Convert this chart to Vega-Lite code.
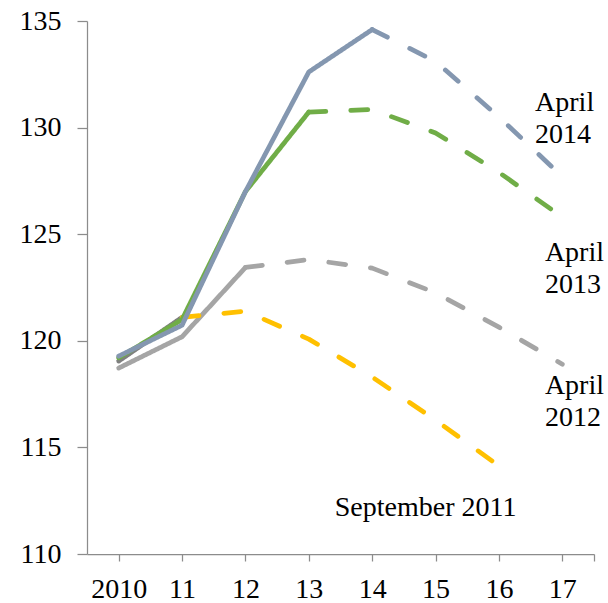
{
  "$schema": "https://vega.github.io/schema/vega-lite/v6.json",
  "width": 507,
  "height": 533,
  "autosize": "none",
  "padding": {"left": 87, "top": 21, "right": 14, "bottom": 49},
  "background": "white",
  "config": {"view": {"stroke": null}},
  "datasets": {
    "lines": [
      {"series": "April 2012", "segment": "solid", "year": 2010, "value": 118.72},
      {"series": "April 2012", "segment": "solid", "year": 2011, "value": 120.19},
      {"series": "April 2012", "segment": "solid", "year": 2012, "value": 123.44},
      {"series": "April 2012", "segment": "dash", "year": 2012, "value": 123.44},
      {"series": "April 2012", "segment": "dash", "year": 2013, "value": 123.81},
      {"series": "April 2012", "segment": "dash", "year": 2014, "value": 123.41},
      {"series": "April 2012", "segment": "dash", "year": 2015, "value": 122.25},
      {"series": "April 2012", "segment": "dash", "year": 2016, "value": 120.64},
      {"series": "April 2012", "segment": "dash", "year": 2017, "value": 118.9},
      {"series": "Actual 2011", "segment": "solid", "year": 2010, "value": 119.05},
      {"series": "Actual 2011", "segment": "solid", "year": 2011, "value": 121.1},
      {"series": "September 2011", "segment": "dash", "year": 2011, "value": 121.1},
      {"series": "September 2011", "segment": "dash", "year": 2012, "value": 121.39},
      {"series": "September 2011", "segment": "dash", "year": 2013, "value": 120.08},
      {"series": "September 2011", "segment": "dash", "year": 2014, "value": 118.3},
      {"series": "September 2011", "segment": "dash", "year": 2015, "value": 116.28},
      {"series": "September 2011", "segment": "dash", "year": 2016, "value": 114.13},
      {"series": "April 2013", "segment": "solid", "year": 2010, "value": 119.2},
      {"series": "April 2013", "segment": "solid", "year": 2011, "value": 121.0},
      {"series": "April 2013", "segment": "solid", "year": 2012, "value": 127.0},
      {"series": "April 2013", "segment": "solid", "year": 2013, "value": 130.73},
      {"series": "April 2013", "segment": "dash", "year": 2013, "value": 130.73},
      {"series": "April 2013", "segment": "dash", "year": 2014, "value": 130.85},
      {"series": "April 2013", "segment": "dash", "year": 2015, "value": 129.75},
      {"series": "April 2013", "segment": "dash", "year": 2016, "value": 127.9},
      {"series": "April 2013", "segment": "dash", "year": 2017, "value": 125.8},
      {"series": "April 2014", "segment": "solid", "year": 2010, "value": 119.28},
      {"series": "April 2014", "segment": "solid", "year": 2011, "value": 120.73},
      {"series": "April 2014", "segment": "solid", "year": 2012, "value": 127.0},
      {"series": "April 2014", "segment": "solid", "year": 2013, "value": 132.61},
      {"series": "April 2014", "segment": "solid", "year": 2014, "value": 134.6},
      {"series": "April 2014", "segment": "dash", "year": 2014, "value": 134.6},
      {"series": "April 2014", "segment": "dash", "year": 2015, "value": 133.1},
      {"series": "April 2014", "segment": "dash", "year": 2016, "value": 130.5},
      {"series": "April 2014", "segment": "dash", "year": 2017, "value": 127.7}
    ],
    "labels": [
      {"label": "April\n2014", "year": 2016.57, "value": 131.17},
      {"label": "April\n2013", "year": 2016.725, "value": 124.14},
      {"label": "April\n2012", "year": 2016.725, "value": 117.87},
      {"label": "September 2011", "year": 2013.41, "value": 112.18}
    ]
  },
  "encoding": {
    "x": {
      "field": "year",
      "type": "quantitative",
      "scale": {"domain": [2009.5, 2017.5], "nice": false, "zero": false},
      "axis": {
        "title": null,
        "values": [2010, 2011, 2012, 2013, 2014, 2015, 2016, 2017, 2017.5],
        "labelExpr": "datum.value == 2010 ? '2010' : (datum.value == 2017.5 ? '' : format(datum.value - 2000, 'd'))",
        "grid": false,
        "tickSize": 7,
        "labelPadding": 14,
        "labelFont": "Liberation Serif",
        "labelFontSize": 28,
        "labelColor": "black",
        "labelFlush": false,
        "labelOverlap": false,
        "labelBound": false,
        "domainColor": "#8C8C8C",
        "tickColor": "#8C8C8C",
        "domainWidth": 1.25,
        "tickWidth": 1.25
      }
    },
    "y": {
      "field": "value",
      "type": "quantitative",
      "scale": {"domain": [110, 135], "nice": false, "zero": false},
      "axis": {
        "title": null,
        "values": [110, 115, 120, 125, 130, 135],
        "grid": false,
        "tickSize": 10,
        "labelPadding": 16,
        "labelFont": "Liberation Serif",
        "labelFontSize": 28,
        "labelColor": "black",
        "labelOverlap": false,
        "labelBound": false,
        "domainColor": "#8C8C8C",
        "tickColor": "#8C8C8C",
        "domainWidth": 1.25,
        "tickWidth": 1.25
      }
    }
  },
  "layer": [
    {
      "data": {"name": "lines"},
      "transform": [{"filter": "datum.series === 'April 2012'"}],
      "mark": {"type": "line", "strokeWidth": 4.75, "strokeCap": "round", "strokeJoin": "round"},
      "encoding": {
        "color": {"field": "series", "type": "nominal", "legend": null,
          "scale": {"domain": ["April 2012", "Actual 2011", "September 2011", "April 2013", "April 2014"], "range": ["#A5A5A5", "#7F7F7F", "#FFC000", "#70AD47", "#8497B0"]}},
        "strokeDash": {"field": "segment", "type": "nominal", "legend": null,
          "scale": {"domain": ["solid", "dash"], "range": [[1, 0], [17, 25]]}},
        "detail": {"field": "segment"}
      }
    },
    {
      "data": {"name": "lines"},
      "transform": [{"filter": "datum.series === 'Actual 2011'"}],
      "mark": {"type": "line", "strokeWidth": 4.75, "strokeCap": "round", "strokeJoin": "round"},
      "encoding": {
        "color": {"field": "series", "type": "nominal", "legend": null},
        "strokeDash": {"field": "segment", "type": "nominal", "legend": null},
        "detail": {"field": "segment"}
      }
    },
    {
      "data": {"name": "lines"},
      "transform": [{"filter": "datum.series === 'September 2011'"}],
      "mark": {"type": "line", "strokeWidth": 4.75, "strokeCap": "round", "strokeJoin": "round"},
      "encoding": {
        "color": {"field": "series", "type": "nominal", "legend": null},
        "strokeDash": {"field": "segment", "type": "nominal", "legend": null},
        "detail": {"field": "segment"}
      }
    },
    {
      "data": {"name": "lines"},
      "transform": [{"filter": "datum.series === 'April 2013'"}],
      "mark": {"type": "line", "strokeWidth": 4.75, "strokeCap": "round", "strokeJoin": "round"},
      "encoding": {
        "color": {"field": "series", "type": "nominal", "legend": null},
        "strokeDash": {"field": "segment", "type": "nominal", "legend": null},
        "detail": {"field": "segment"}
      }
    },
    {
      "data": {"name": "lines"},
      "transform": [{"filter": "datum.series === 'April 2014'"}],
      "mark": {"type": "line", "strokeWidth": 4.75, "strokeCap": "round", "strokeJoin": "round"},
      "encoding": {
        "color": {"field": "series", "type": "nominal", "legend": null},
        "strokeDash": {"field": "segment", "type": "nominal", "legend": null},
        "detail": {"field": "segment"}
      }
    },
    {
      "data": {"name": "labels"},
      "mark": {"type": "text", "align": "left", "baseline": "middle", "font": "Liberation Serif", "fontSize": 28, "lineBreak": "\n", "lineHeight": 32, "color": "black"},
      "encoding": {
        "text": {"field": "label", "type": "nominal"}
      }
    }
  ]
}
